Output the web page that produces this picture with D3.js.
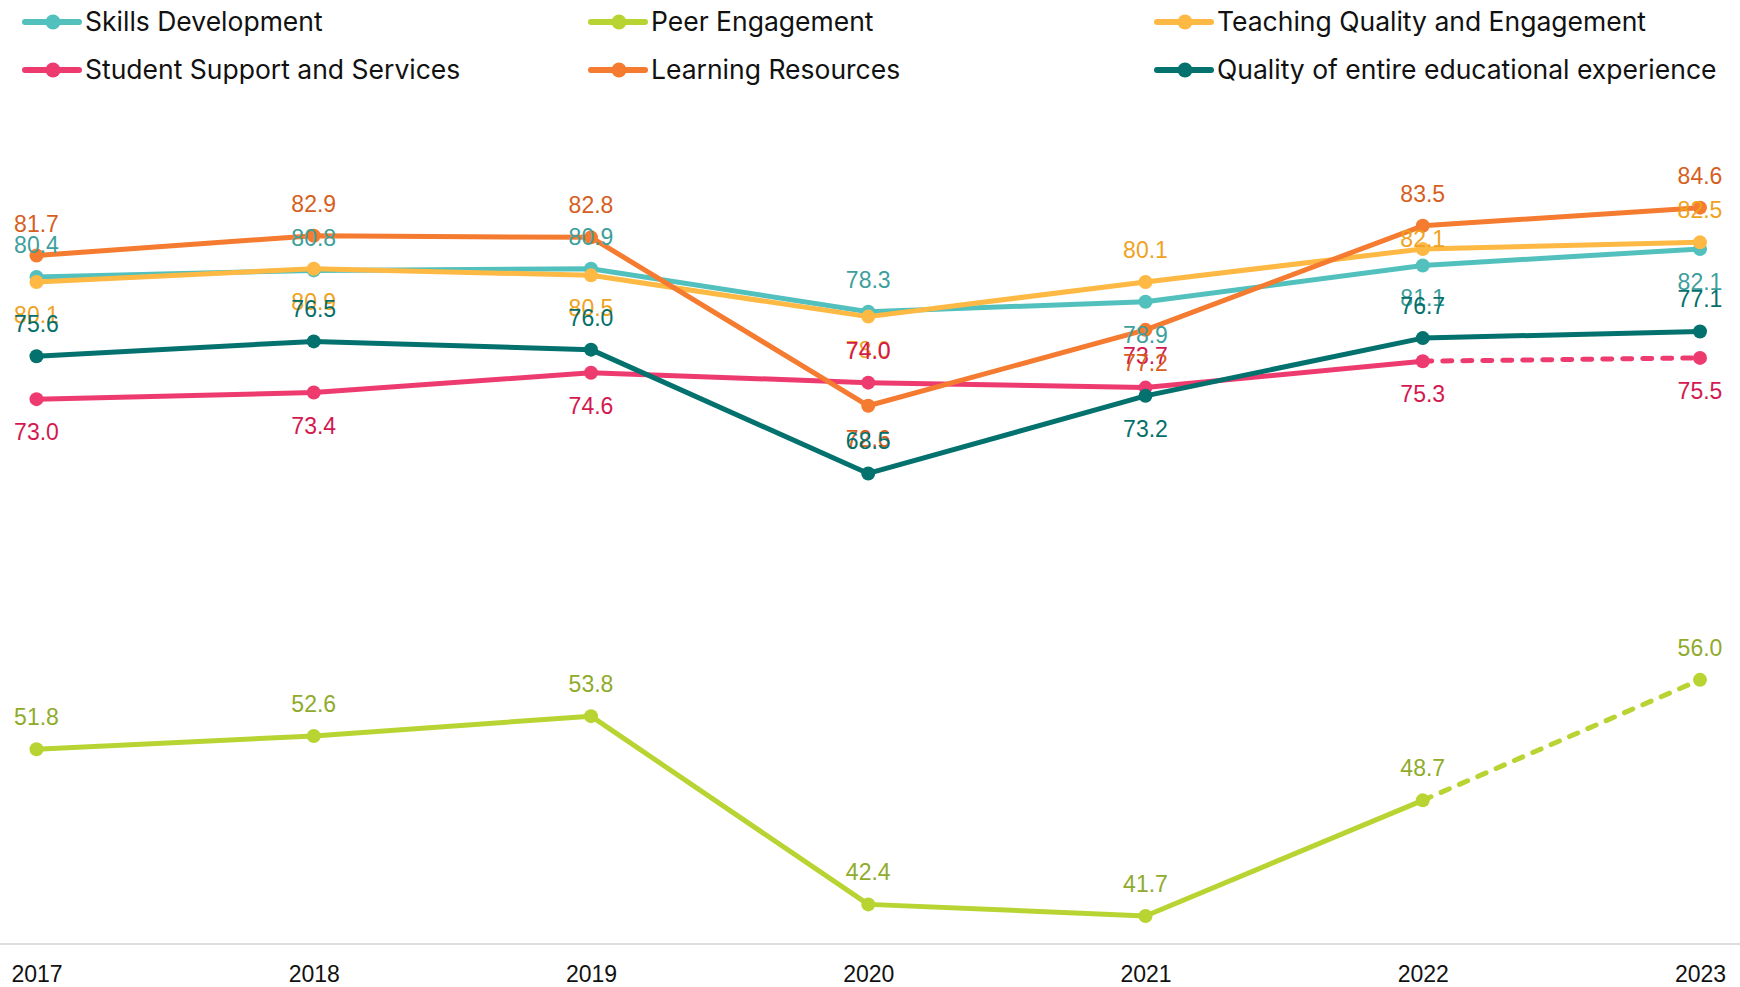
<!DOCTYPE html>
<html>
<head>
<meta charset="utf-8">
<script src="https://cdn.jsdelivr.net/npm/d3@7"></script>
<style>
  html, body { margin: 0; padding: 0; background: #fff; }
  svg { display: block; }
</style>
</head>
<body>
<div class="chart"></div>
<script>
// years on the x axis
const years = ["2017", "2018", "2019", "2020", "2021", "2022", "2023"];

// series names, in legend order
const seriesNames = [
  "Skills Development",
  "Peer Engagement",
  "Teaching Quality and Engagement",
  "Student Support and Services",
  "Learning Resources",
  "Quality of entire educational experience"
];

// values per series
const skillsDevelopment = [80.4, 80.8, 80.9, 78.3, 78.9, 81.1, 82.1];
const peerEngagement = [51.8, 52.6, 53.8, 42.4, 41.7, 48.7, 56.0];
const teachingQuality = [80.1, 80.9, 80.5, 78.0, 80.1, 82.1, 82.5];
const studentSupport = [73.0, 73.4, 74.6, 74.0, 73.7, 75.3, 75.5];
const learningResources = [81.7, 82.9, 82.8, 72.6, 77.2, 83.5, 84.6];
const qualityEntire = [75.6, 76.5, 76.0, 68.5, 73.2, 76.7, 77.1];

// series whose last segment is dashed (from 2022 on)
const dashedSeries = ["Peer Engagement", "Student Support and Services"];
const dashedFrom = "2022";

const allValues = [skillsDevelopment, peerEngagement, teachingQuality,
                   studentSupport, learningResources, qualityEntire];

// colours: line colour and (darker) label colour
const lineColors = ["#52c1be", "#b8d432", "#fdb943", "#ee3b6f", "#f47b30", "#03716d"];
const labelColors = ["#3d9f9c", "#8fab2b", "#efa21e", "#d3194f", "#d65f1e", "#046f6b"];

// where each data label sits: a = above, b = below, m = at the point
const labelSides = [
  ["a", "a", "a", "a", "b", "b", "b"],
  ["a", "a", "a", "a", "a", "a", "a"],
  ["b", "b", "b", "b", "a", "m", "a"],
  ["b", "b", "b", "a", "a", "b", "b"],
  ["a", "a", "a", "b", "b", "a", "a"],
  ["a", "a", "a", "a", "b", "a", "a"]
];

const width = 1740, height = 987;

const svg = d3.select(".chart")
  .append("svg")
  .attr("width", width)
  .attr("height", height);

const x = d3.scalePoint()
  .domain(years)
  .range([36.5, 1700]);

const y = d3.scaleLinear()
  .domain([40, 90])
  .range([944, 118.5]);

// bottom axis
const xAxis = svg.append("g")
  .attr("transform", "translate(0,944)")
  .call(d3.axisBottom(x).tickSize(0).tickPadding(0));
xAxis.select(".domain").remove();
svg.append("line")
  .attr("x1", 0).attr("x2", width)
  .attr("y1", 944).attr("y2", 944)
  .attr("stroke", "#dedede")
  .attr("stroke-width", 2);
xAxis.selectAll("text")
  .attr("y", 38)
  .attr("dy", 0)
  .style("font-family", "'Liberation Sans', Arial, sans-serif")
  .style("font-size", "23px")
  .style("fill", "#111");

const series = seriesNames.map((name, i) => ({
  name: name,
  color: lineColors[i],
  labelColor: labelColors[i],
  dashed: dashedSeries.includes(name),
  values: years.map((yr, j) => ({ year: yr, value: allValues[i][j], side: labelSides[i][j] }))
}));

const line = d3.line()
  .x(d => x(d.year))
  .y(d => y(d.value));

const cut = years.indexOf(dashedFrom);

series.forEach(s => {
  const g = svg.append("g");
  if (s.dashed) {
    g.append("path")
      .datum(s.values.slice(0, cut + 1))
      .attr("d", line)
      .attr("fill", "none")
      .attr("stroke", s.color)
      .attr("stroke-width", 5)
      .attr("stroke-linejoin", "round");
    g.append("path")
      .datum(s.values.slice(cut))
      .attr("d", line)
      .attr("fill", "none")
      .attr("stroke", s.color)
      .attr("stroke-width", 5)
      .attr("stroke-linecap", "round")
      .attr("stroke-dasharray", "9 11");
  } else {
    g.append("path")
      .datum(s.values)
      .attr("d", line)
      .attr("fill", "none")
      .attr("stroke", s.color)
      .attr("stroke-width", 5)
      .attr("stroke-linejoin", "round");
  }
  g.selectAll("circle")
    .data(s.values)
    .enter()
    .append("circle")
    .attr("cx", d => x(d.year))
    .attr("cy", d => y(d.value))
    .attr("r", 7)
    .attr("fill", s.color);
});

// data labels on top of everything
series.forEach(s => {
  svg.append("g")
    .selectAll("text")
    .data(s.values)
    .enter()
    .append("text")
    .attr("x", d => x(d.year))
    .attr("y", d => y(d.value) + (d.side === "a" ? -24 : d.side === "b" ? 41 : -2))
    .attr("text-anchor", "middle")
    .style("font-family", "'Liberation Sans', Arial, sans-serif")
    .style("font-size", "23px")
    .style("fill", s.labelColor)
    .text(d => d.value.toFixed(1));
});

// legend: 3 columns, 2 rows
const legendCols = [25, 591, 1157];
const legendRows = [22, 70];
const legend = svg.append("g");
series.forEach((s, i) => {
  const lx = legendCols[i % 3], ly = legendRows[Math.floor(i / 3)];
  const item = legend.append("g").attr("transform", `translate(${lx},${ly})`);
  item.append("line")
    .attr("x1", 0).attr("x2", 54)
    .attr("stroke", s.color)
    .attr("stroke-width", 6)
    .attr("stroke-linecap", "round");
  item.append("circle")
    .attr("cx", 28)
    .attr("r", 7.5)
    .attr("fill", s.color);
  item.append("text")
    .attr("x", 60)
    .attr("dy", "0.35em")
    .style("font-family", "Inter, 'Noto Sans', sans-serif")
    .style("font-size", "26.5px")
    .style("fill", "#111")
    .text(s.name);
});
</script>
</body>
</html>
